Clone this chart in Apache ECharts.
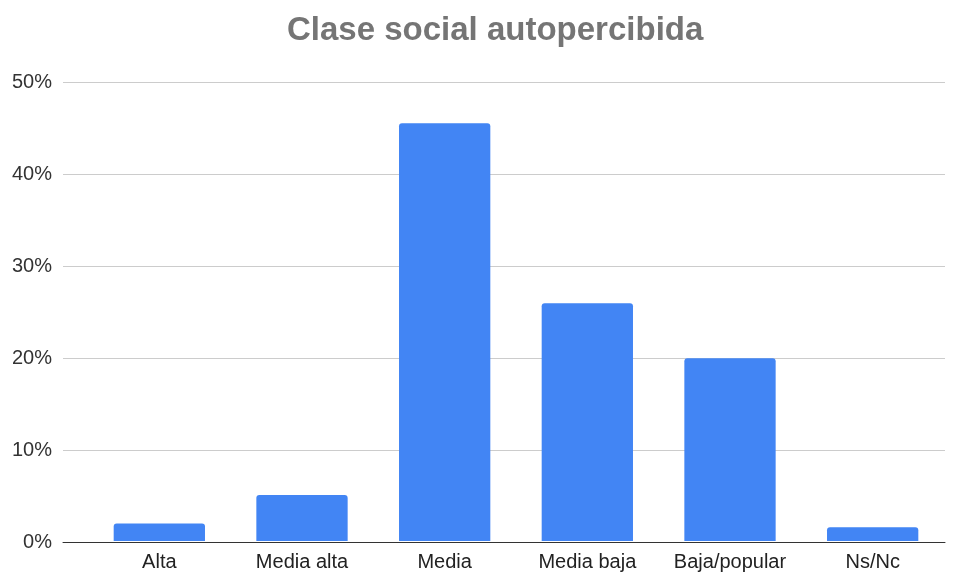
<!DOCTYPE html>
<html>
<head>
<meta charset="utf-8">
<script src="https://cdn.jsdelivr.net/npm/echarts@6/dist/echarts.min.js"></script>
<style>
  html, body { margin: 0; padding: 0; background: #fff; }
  #chart { width: 957px; height: 572px; }
</style>
</head>
<body>
<div id="chart"></div>
<script>
const categories = ['Alta', 'Media alta', 'Media', 'Media baja', 'Baja/popular', 'Ns/Nc']
const values = [1.9, 5.0, 45.5, 25.9, 19.9, 1.5]
const yTicks = [0, 10, 20, 30, 40, 50]

const font = 'Liberation Sans, Arial, sans-serif'
const chart = echarts.init(document.getElementById('chart'))

chart.setOption({
  animation: false,
  title: {
    text: 'Clase social autopercibida',
    left: 282,
    top: 9,
    textStyle: { fontFamily: font, fontSize: 33, fontWeight: 'bold', color: '#757575' },
  },
  grid: [
    // gridlines + y labels
    { left: 63, right: 12, top: 82, bottom: 30 },
    // bars
    { left: 88, right: 13, top: 82, bottom: 30 },
  ],
  xAxis: [
    {
      gridIndex: 0, type: 'category', data: [''],
      axisLine: { lineStyle: { color: '#333', width: 1 } },
      axisTick: { show: false }, axisLabel: { show: false },
    },
    {
      gridIndex: 1, type: 'category', data: categories,
      axisLine: { show: false }, axisTick: { show: false },
      axisLabel: { fontFamily: font, fontSize: 20, color: '#222', margin: 11, interval: 0 },
    },
  ],
  yAxis: [
    {
      gridIndex: 0, type: 'value', min: yTicks[0], max: yTicks[yTicks.length - 1], interval: 10,
      axisLine: { show: false }, axisTick: { show: false },
      axisLabel: { fontFamily: font, fontSize: 20, color: '#333', margin: 11, formatter: '{value}%' },
      splitLine: { lineStyle: { color: '#cccccc' } },
    },
    {
      gridIndex: 1, type: 'value', min: 0, max: 50, interval: 10,
      show: false,
    },
  ],
  series: [{
    type: 'bar',
    xAxisIndex: 1, yAxisIndex: 1,
    data: values,
    barCategoryGap: '36%',
    itemStyle: { color: '#4285F4', borderRadius: [3, 3, 0, 0] },
  }],
})
</script>
</body>
</html>
